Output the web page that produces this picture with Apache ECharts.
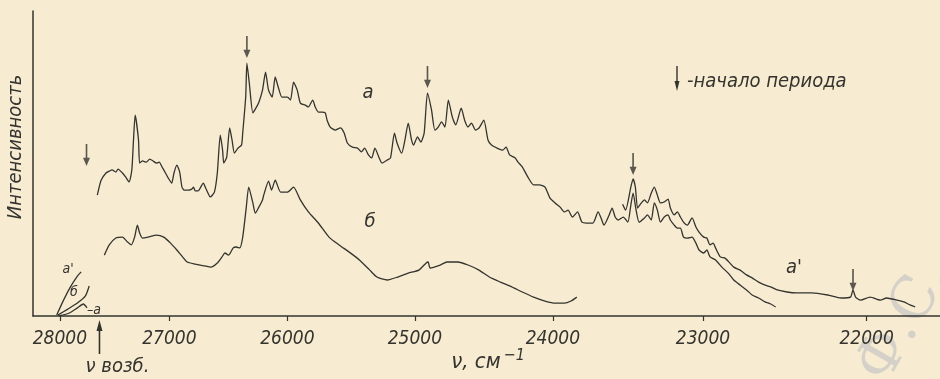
<!DOCTYPE html>
<html>
<head>
<meta charset="utf-8">
<script src="https://cdn.jsdelivr.net/npm/echarts@6/dist/echarts.min.js"></script>
<style>
  html, body { margin: 0; padding: 0; background: #f7ecd2; }
  #chart { width: 940px; height: 379px; }
</style>
</head>
<body>
<div id="chart"></div>
<script>
// wavenumber ticks (cm-1); the recorder scale is linear in wavelength
const tickNu = [28000, 27000, 26000, 25000, 24000, 23000, 22000]

// curve "а"
const aNu = [27650, 27615, 27570, 27540, 27515, 27480, 27460, 27420, 27390, 27360, 27335, 27320, 27305, 27275, 27265,
  27240, 27205, 27175, 27145, 27115, 27090, 27065, 27035, 27010, 26980, 26960, 26935, 26910, 26890, 26870, 26830,
  26805, 26790, 26775, 26750, 26705, 26685, 26665, 26645, 26610, 26585, 26560, 26540, 26530, 26505, 26480, 26460,
  26440, 26410, 26380, 26370, 26345, 26335, 26315, 26285, 26260, 26235, 26205, 26180, 26155, 26125, 26100, 26075,
  26045, 26000, 25975, 25950, 25920, 25895, 25855, 25830, 25795, 25775, 25750, 25720, 25695, 25680, 25655, 25615,
  25575, 25545, 25520, 25480, 25440, 25410, 25385, 25355, 25330, 25305, 25275, 25250, 25210, 25185, 25155, 25135,
  25100, 25075, 25050, 25025, 25010, 24980, 24955, 24930, 24905, 24875, 24850, 24825, 24800, 24775, 24750, 24720,
  24695, 24655, 24630, 24605, 24580, 24550, 24525, 24490, 24460, 24435, 24395, 24355, 24330, 24305, 24265, 24245,
  24215, 24175, 24135, 24095, 24055, 24020, 23985, 23950, 23920, 23895, 23865, 23830, 23800, 23770, 23725, 23690,
  23670, 23650, 23615, 23595, 23575, 23555, 23520, 23490, 23470, 23455, 23435, 23415, 23380, 23360, 23335, 23315,
  23295, 23275, 23250, 23225, 23210, 23185, 23165, 23145, 23125, 23100, 23070, 23045, 23025, 22995, 22975, 22955,
  22920, 22880, 22840, 22805, 22765, 22725, 22690, 22650, 22610, 22575, 22545]
const aInt = [40.3, 45.3, 47.7, 48.3, 48.7, 48, 49, 47.7, 46.3, 44.7, 48.7, 58.7, 67, 58.7, 51,
  51.7, 51.3, 52.3, 51.7, 51, 51.3, 49.7, 47.7, 46, 44.3, 47.7, 50.3, 48, 43, 42, 42,
  42.3, 43, 41.7, 41.7, 44.3, 42.7, 41, 39.7, 41.3, 47.7, 60.3, 55.3, 51, 53, 62.7, 58.7,
  54.3, 56, 57, 61, 73, 84.3, 77.7, 67.7, 69.3, 71.3, 75.3, 81.3, 75.3, 73, 79.7, 76.3,
  73, 73, 72, 78, 75.3, 71, 70.3, 69.7, 72, 69.7, 68, 68, 67.7, 65.3, 63, 62,
  62.7, 61, 57.7, 56.3, 56, 54.7, 56, 53.7, 52.7, 56, 53, 51, 52, 52.7, 61, 57.7,
  54.3, 58.7, 64.3, 58.7, 57, 59.7, 58, 61, 74.3, 68.7, 62, 63, 64.7, 63, 72, 66.3,
  63.7, 69.3, 65.3, 63, 64.3, 62, 62.7, 65.3, 58.7, 57, 56, 55.3, 56.3, 53.7, 52.7, 51.3,
  49.7, 46.3, 43.7, 43.7, 43, 39.3, 37.7, 36.3, 34.7, 35.3, 33, 34.7, 31.3, 31, 31, 34.7,
  32.7, 30.3, 33.7, 36, 33, 32, 33, 31.3, 37, 41, 35.3, 31.3, 32.7, 33.7, 32, 37.7,
  35.3, 31.3, 33, 33.7, 32, 30.3, 29.3, 29.3, 26.3, 26, 26.3, 24.3, 22, 21, 22, 19.7,
  18.7, 16.3, 14.3, 12, 10.3, 8.7, 7, 6, 4.7, 4, 3]

// curve "а'" (long-wavelength part, higher gain)
const a2Nu = [23525, 23505, 23470, 23455, 23440, 23425, 23400, 23380, 23360, 23335, 23315, 23295, 23275, 23250,
  23225, 23210, 23185, 23165, 23145, 23125, 23100, 23070, 23045, 23025, 22995, 22975, 22955, 22935, 22920, 22890,
  22860, 22830, 22805, 22765, 22725, 22690, 22650, 22610, 22575, 22535, 22475, 22420, 22325, 22230, 22150, 22095,
  22080, 22065, 22035, 21980, 21920, 21885, 21825, 21785, 21750, 21720]
const a2Int = [37.3, 35.3, 43, 45.7, 43, 36, 37.7, 38.7, 37.7, 41, 43, 40.3, 37.7, 38,
  39, 36, 33.7, 34.7, 33, 31.3, 30.3, 32.7, 29.7, 28, 26.3, 26, 23.7, 24.3, 22.7, 19.7,
  19.3, 17.7, 16.3, 15.3, 13.7, 12.7, 11.3, 10.3, 9.7, 8.7, 8, 7.7, 7.7, 7, 6, 6.3,
  8.7, 6.3, 5.3, 6.3, 5.3, 6, 5.3, 4.7, 3.7, 3]

// curve "б"
const bNu = [27585, 27540, 27480, 27420, 27375, 27340, 27310, 27285, 27265, 27240, 27190, 27115, 27050, 26990,
  26935, 26885, 26845, 26775, 26695, 26640, 26585, 26545, 26520, 26490, 26450, 26425, 26395, 26370, 26340, 26320,
  26285, 26265, 26235, 26205, 26195, 26155, 26130, 26100, 26055, 26000, 25950, 25895, 25830, 25750, 25665, 25585,
  25505, 25425, 25345, 25290, 25210, 25130, 25050, 24970, 24915, 24900, 24885, 24810, 24760, 24680, 24605, 24525,
  24450, 24370, 24290, 24215, 24135, 24055, 23985, 23920, 23875, 23835]
const bInt = [20.3, 23.7, 26, 26.3, 24.7, 23.7, 26.3, 30.3, 27.7, 26, 26.3, 27, 26.3, 24.3,
  22, 19.7, 18, 17.3, 16.7, 16.3, 17.7, 19.7, 21, 20.3, 22.7, 23, 22.7, 26.3, 36.3, 43,
  37.7, 34.3, 36.3, 38.7, 40.3, 45, 42, 45.3, 41.3, 41.3, 43, 38.7, 34.7, 31, 26.3, 23.7,
  21.3, 18.7, 15.3, 13, 12, 13, 14.3, 15.3, 17.7, 18, 16, 17, 18, 18, 17, 15.3,
  13, 11.3, 9.7, 8, 6.3, 5, 4.3, 4.3, 5, 6.3]

// exciting line, recorded for а', б, а
const excA2Nu = [28030, 27965, 27900, 27835, 27800]
const excA2Int = [0.3, 5.3, 9.7, 13.3, 14.7]
const excBNu = [28020, 27925, 27835, 27760, 27725]
const excBInt = [0.3, 2.3, 4.3, 6.7, 10]
const excANu = [28010, 27910, 27835, 27780, 27745]
const excAInt = [0, 1, 2.7, 4, 2.7]

// period starts (arrows)
const arrowNu = [27750, 26335, 24905, 23455, 22080]
const arrowInt = [50, 86, 76, 47, 8.3]
const exciteNu = 27630

const lam = (nu) => 1e7 / nu
const toPoints = (nu, val) => nu.map((n, i) => [lam(n), val[i]])

const ink = '#34332e'
const font = "'DejaVu Sans Condensed', 'DejaVu Sans', sans-serif"

const chart = echarts.init(document.getElementById('chart'))

const lineSeries = (name, nu, val) => ({
  name,
  type: 'line',
  data: toPoints(nu, val),
  showSymbol: false,
  smooth: 0.2,
  lineStyle: { color: ink, width: 1.3 },
  silent: true,
})

chart.setOption({
  backgroundColor: '#f7ecd2',
  animation: false,
  grid: { left: 33, right: 0, top: 11, bottom: 63 },
  xAxis: {
    type: 'value',
    min: 353.9,
    max: 463.4,
    z: 5,
    axisLine: { show: true, lineStyle: { color: ink, width: 1.5 } },
    axisTick: {
      show: true,
      customValues: tickNu.map(lam),
      length: 5,
      lineStyle: { color: ink, width: 1.2 },
    },
    axisLabel: {
      customValues: tickNu.map(lam),
      formatter: (v) => String(Math.round(1e7 / v)),
      color: ink,
      fontFamily: font,
      fontStyle: 'italic',
      fontSize: 19,
      margin: 14,
    },
    splitLine: { show: false },
  },
  yAxis: {
    type: 'value',
    min: 0,
    max: 101.7,
    axisLine: { show: true, lineStyle: { color: ink, width: 1.5 } },
    axisTick: { show: false },
    axisLabel: { show: false },
    splitLine: { show: false },
  },
  series: [
    lineSeries('а', aNu, aInt),
    lineSeries("а'", a2Nu, a2Int),
    lineSeries('б', bNu, bInt),
    lineSeries('exc а\'', excA2Nu, excA2Int),
    lineSeries('exc б', excBNu, excBInt),
    lineSeries('exc а', excANu, excAInt),
    {
      name: 'period',
      type: 'scatter',
      data: toPoints(arrowNu, arrowInt),
      symbol: 'path://M3.3,0 L4.7,0 L4.7,15 L7,15 L4,24 L1,15 L3.3,15 Z',
      symbolSize: [7, 22],
      symbolKeepAspect: false,
      symbolOffset: [0, '-50%'],
      itemStyle: { color: ink },
      silent: true,
    },
  ],
})

const exX = chart.convertToPixel({ xAxisIndex: 0 }, lam(exciteNu))
const textStyle = (text, size, extra) => Object.assign({
  text,
  font: `italic ${size}px ${font}`,
  fill: ink,
  align: 'center',
  verticalAlign: 'middle',
}, extra || {})

chart.setOption({
  graphic: [
    // faint library stamp in the corner of the scan
    {
      type: 'text', x: 905, y: 322, rotation: Math.PI / 3, z: -10,
      style: { text: 'Ф.С.', font: '58px "DejaVu Serif", serif', fill: '#d6d1c8', align: 'center', verticalAlign: 'middle' },
    },
    { type: 'text', x: 16, y: 147, rotation: Math.PI / 2, style: textStyle('Интенсивность', 20) },
    { type: 'text', x: 368, y: 93, style: textStyle('а', 20) },
    { type: 'text', x: 370, y: 222, style: textStyle('б', 20) },
    { type: 'text', x: 794, y: 268, style: textStyle("а'", 20) },
    { type: 'text', x: 68, y: 269, style: textStyle("а'", 14) },
    { type: 'text', x: 74, y: 292, style: textStyle('б', 14) },
    { type: 'text', x: 94, y: 310, style: textStyle('–а', 14) },
    { type: 'text', x: 687, y: 82, style: textStyle('-начало периода', 20, { align: 'left' }) },
    { type: 'line', shape: { x1: 677, y1: 66, x2: 677, y2: 84 }, style: { stroke: ink, lineWidth: 1.4 } },
    { type: 'polygon', shape: { points: [[674.5, 81], [677, 91], [679.5, 81]] }, style: { fill: ink } },
    { type: 'line', shape: { x1: exX, y1: 354, x2: exX, y2: 328 }, style: { stroke: ink, lineWidth: 1.6 } },
    { type: 'polygon', shape: { points: [[exX - 3, 331], [exX, 320], [exX + 3, 331]] }, style: { fill: ink } },
    { type: 'text', x: exX + 18, y: 367, style: textStyle('ν возб.', 20) },
    {
      type: 'text', x: 488, y: 362,
      style: {
        text: '{a|ν, см}{b|−1}',
        align: 'center',
        verticalAlign: 'middle',
        rich: {
          a: { font: `italic 22px ${font}`, fill: ink },
          b: { font: `italic 16px ${font}`, fill: ink, padding: [0, 0, 12, 3] },
        },
      },
    },
  ],
})
</script>
</body>
</html>
